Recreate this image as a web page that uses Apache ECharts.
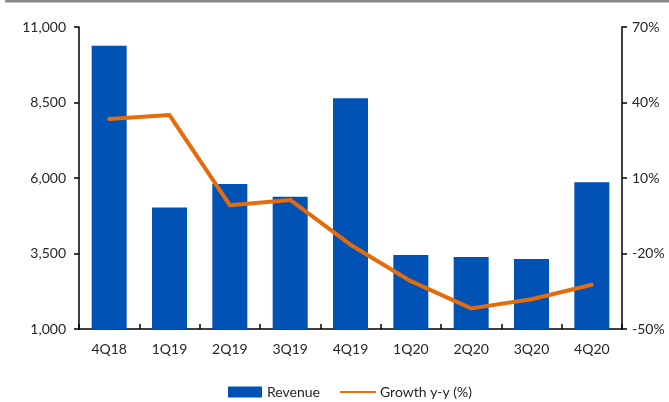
<!DOCTYPE html>
<html>
<head>
<meta charset="utf-8">
<script src="https://cdn.jsdelivr.net/npm/echarts@6/dist/echarts.min.js"></script>
<style>
  html, body { margin: 0; padding: 0; background: #fff; }
  #chart { width: 669px; height: 402px; }
</style>
</head>
<body>
<div id="chart"></div>
<script>
// Quarterly revenue with year-over-year growth
const quarters = ['4Q18', '1Q19', '2Q19', '3Q19', '4Q19', '1Q20', '2Q20', '3Q20', '4Q20'];
const revenue = [10380, 5020, 5800, 5380, 8640, 3450, 3380, 3320, 5860];
const growthPct = [33.4, 35.0, -0.8, 1.3, -16.5, -31.0, -41.8, -38.2, -32.4];
const revenueTicks = [1000, 3500, 6000, 8500, 11000];
const growthTicks = [-50, -20, 10, 40, 70];

const FONT = 'Lato, "Open Sans", sans-serif';
const TEXT = '#262626';
const BLUE = '#0052b4';
const ORANGE = '#e46c0a';
const CLEAR = 'rgba(0,0,0,0)';

const chart = echarts.init(document.getElementById('chart'), null, { renderer: 'canvas' });

chart.setOption({
  animation: false,
  backgroundColor: '#ffffff',
  textStyle: { fontFamily: FONT, color: TEXT },
  graphic: [{
    type: 'rect',
    shape: { x: 5, y: 0, width: 664, height: 2.5 },
    style: { fill: '#8a8a8a' },
    silent: true
  }],
  grid: { left: 79, right: 47, top: 27, bottom: 73, containLabel: false },
  legend: {
    top: 380,
    left: 223,
    itemGap: 20,
    itemWidth: 34,
    itemHeight: 11,
    textStyle: { fontFamily: FONT, fontSize: 14, color: TEXT },
    data: [
      { name: 'Revenue', icon: 'rect' },
      // line-only key: hide the marker dot, keep the stroke
      { name: 'Growth y-y (%)', itemStyle: { color: CLEAR, borderColor: CLEAR, borderWidth: 0 } }
    ]
  },
  xAxis: {
    type: 'category',
    data: quarters,
    boundaryGap: true,
    axisLine: { onZero: false, lineStyle: { color: '#000', width: 1.5 } },
    axisTick: { show: true, inside: true, length: 5, lineStyle: { color: '#000', width: 1.5 } },
    axisLabel: { fontFamily: FONT, fontSize: 14, color: TEXT, margin: 13 }
  },
  yAxis: [
    {
      type: 'value',
      position: 'left',
      min: revenueTicks[0],
      max: revenueTicks[revenueTicks.length - 1],
      splitLine: { show: false },
      axisLine: { show: true, lineStyle: { color: '#000', width: 1.5 } },
      axisTick: { show: true, length: 5, customValues: revenueTicks, lineStyle: { color: '#000', width: 1.5 } },
      axisLabel: {
        customValues: revenueTicks,
        fontFamily: FONT, fontSize: 14, color: TEXT, margin: 13,
        formatter: v => v.toLocaleString('en-US')
      }
    },
    {
      type: 'value',
      position: 'right',
      min: growthTicks[0],
      max: growthTicks[growthTicks.length - 1],
      splitLine: { show: false },
      axisLine: { show: true, lineStyle: { color: '#000', width: 1.5 } },
      axisTick: { show: true, length: 5, customValues: growthTicks, lineStyle: { color: '#000', width: 1.5 } },
      axisLabel: {
        customValues: growthTicks,
        fontFamily: FONT, fontSize: 14, color: TEXT, margin: 10,
        formatter: v => v + '%'
      }
    }
  ],
  series: [
    {
      name: 'Revenue',
      type: 'bar',
      yAxisIndex: 0,
      data: revenue,
      barWidth: '58%',
      itemStyle: { color: BLUE }
    },
    {
      name: 'Growth y-y (%)',
      type: 'line',
      yAxisIndex: 1,
      data: growthPct,
      symbol: 'none',
      smooth: false,
      lineStyle: { color: ORANGE, width: 4, cap: 'round', join: 'round' },
      itemStyle: { color: ORANGE }
    }
  ]
});
</script>
</body>
</html>
